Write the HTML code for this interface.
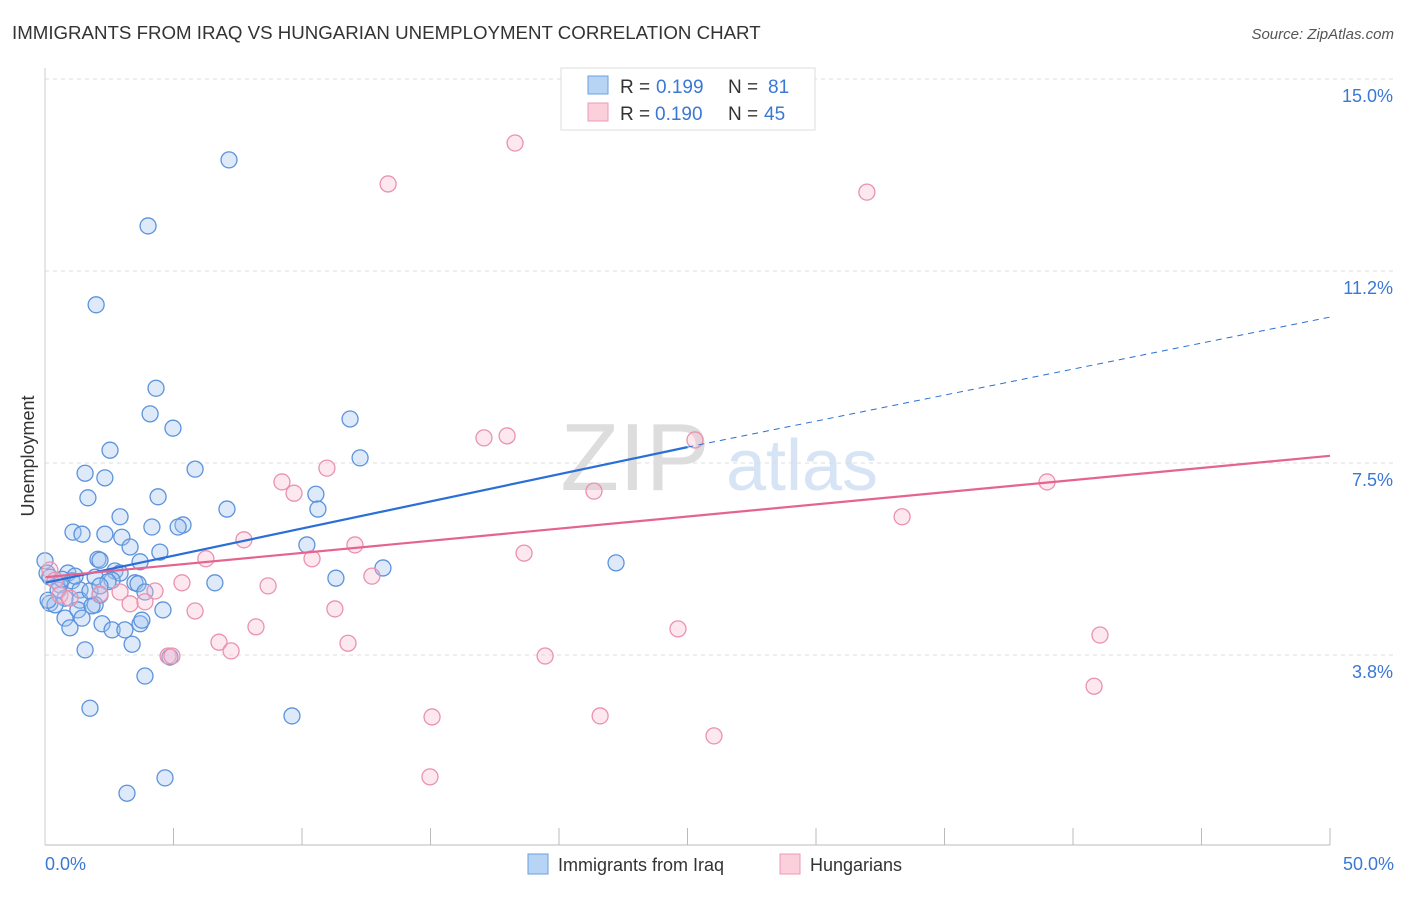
<!DOCTYPE html>
<html><head><meta charset="utf-8"><style>
body{margin:0;background:#fff;font-family:"Liberation Sans",sans-serif;}
svg text{font-family:"Liberation Sans",sans-serif;}
</style></head><body>
<svg id="chart" width="1406" height="892">
<text x="12" y="39" font-size="18.7" fill="#333">IMMIGRANTS FROM IRAQ VS HUNGARIAN UNEMPLOYMENT CORRELATION CHART</text>
<text x="1394" y="39" font-size="15" fill="#555" font-style="italic" text-anchor="end">Source: ZipAtlas.com</text>
<text x="34" y="456" font-size="18" fill="#333" transform="rotate(-90 34 456)" text-anchor="middle">Unemployment</text>
<text x="635" y="490" font-size="96" fill="#ddd" text-anchor="middle" font-family="Liberation Serif">ZIP</text>
<text x="802" y="490" font-size="72" fill="#d6e4f5" text-anchor="middle">atlas</text>
<g id="grid"></g><g id="pts"></g><g id="lines"></g>
<line x1="45" y1="845" x2="1330" y2="845" stroke="#bbb"/>
<line x1="45" y1="68" x2="45" y2="845" stroke="#ccc"/>
<text x="45" y="870" font-size="18" fill="#3a78d4">0.0%</text>
<text x="1394" y="870" font-size="18" fill="#3a78d4" text-anchor="end">50.0%</text>
<g>
<rect x="561" y="68" width="254" height="62" fill="#fff" stroke="#ddd"/>
<rect x="588" y="76" width="20" height="18" fill="#b8d4f5" stroke="#6a9fe0"/>
<rect x="588" y="103" width="20" height="18" fill="#fbd0dc" stroke="#ec9ab3"/>
<text x="620" y="93" font-size="19" fill="#333">R =</text>
<text x="656" y="93" font-size="19" fill="#3a78d4">0.199</text>
<text x="728" y="93" font-size="19" fill="#333">N =</text>
<text x="768" y="93" font-size="19" fill="#3a78d4">81</text>
<text x="620" y="120" font-size="19" fill="#333">R =</text>
<text x="655" y="120" font-size="19" fill="#3a78d4">0.190</text>
<text x="728" y="120" font-size="19" fill="#333">N =</text>
<text x="764" y="120" font-size="19" fill="#3a78d4">45</text>
</g>
<g>
<rect x="528" y="854" width="20" height="20" fill="#b8d4f5" stroke="#6a9fe0"/>
<text x="558" y="871" font-size="18" fill="#333">Immigrants from Iraq</text>
<rect x="780" y="854" width="20" height="20" fill="#fbd0dc" stroke="#ec9ab3"/>
<text x="810" y="871" font-size="18" fill="#333">Hungarians</text>
</g>
</svg>
<script>
const yTicks=[3.75,7.5,11.25,15];
const yTickLabels=["3.8%","7.5%","11.2%","15.0%"];
const xTicks=[0,5,10,15,20,25,30,35,40,45,50];
const iraqX=[7.16,4.01,1.99,4.32,4.09,11.87,4.98,2.53,12.26,5.84,1.56,2.33,1.67,4.40,10.54,7.08,10.62,2.92,4.16,5.37,5.18,1.09,1.44,2.33,2.99,3.31,10.19,4.47,2.06,2.14,3.70,0,0.08,0.89,2.72,2.92,13.15,22.22,0.19,1.05,1.95,2.61,3.50,3.62,11.32,6.61,0.58,1.36,2.14,3.89,0.78,1.36,0.19,0.39,1.95,1.28,4.59,0.78,1.44,1.83,0.97,2.22,2.61,3.11,3.70,3.77,3.39,1.56,4.86,3.89,1.75,9.61,4.67,3.19,0.51,0.12,0.66,1.17,2.45,1.75,2.14];
const iraqY=[13.42,12.13,10.59,8.96,8.46,8.36,8.18,7.75,7.60,7.38,7.30,7.21,6.82,6.84,6.89,6.60,6.60,6.45,6.25,6.29,6.25,6.15,6.11,6.11,6.05,5.86,5.90,5.76,5.62,5.60,5.57,5.59,5.35,5.35,5.39,5.35,5.45,5.55,5.27,5.20,5.27,5.21,5.16,5.14,5.25,5.16,5.12,5.02,4.92,4.98,4.86,4.82,4.76,4.73,4.73,4.63,4.63,4.47,4.47,4.71,4.28,4.36,4.24,4.24,4.36,4.43,3.96,3.85,3.71,3.34,2.71,2.56,1.35,1.05,5.02,4.82,5.23,5.29,5.18,5.00,5.10];
const hunX=[18.29,13.35,31.98,17.08,17.98,25.29,10.97,9.22,9.69,38.99,21.36,33.35,7.74,6.26,12.06,10.39,18.64,12.72,5.33,8.68,4.28,2.92,2.14,3.31,3.89,5.84,11.28,0.19,0.39,0.58,8.21,6.77,7.24,11.79,24.63,41.05,4.79,19.46,4.94,40.82,15.06,21.60,26.03,14.98,0.97];
const hunY=[13.75,12.95,12.79,7.99,8.03,7.95,7.40,7.13,6.91,7.13,6.95,6.45,6.00,5.63,5.90,5.63,5.74,5.29,5.16,5.10,5.00,4.98,4.94,4.75,4.79,4.61,4.65,5.41,5.21,4.92,4.30,4.00,3.83,3.98,4.26,4.14,3.73,3.73,3.73,3.14,2.54,2.56,2.17,1.37,4.86];
const iraqLine={x0:0,y0:5.16,x1:25,y1:7.81,x2:50,y2:10.35};
const hunLine={x0:0,y0:5.27,x1:50,y1:7.64};
const NS="http://www.w3.org/2000/svg";
const sx=v=>45+v/50*1285, sy=v=>847-v*51.2;
function mk(tag,a,parent){const e=document.createElementNS(NS,tag);for(const k in a)e.setAttribute(k,a[k]);parent.appendChild(e);return e;}
const grid=document.getElementById('grid'),pts=document.getElementById('pts'),lines=document.getElementById('lines');
yTicks.forEach((t,i)=>{
 const l=mk('line',{x1:45,x2:1394,y1:sy(t),y2:sy(t),stroke:'#ddd','stroke-dasharray':'4 4'},grid);
 
 
 const tx=mk('text',{x:1393,y:sy(t)+23,'font-size':18,fill:'#3a78d4','text-anchor':'end'},grid);
 tx.textContent=yTickLabels[i];
 
 
});
xTicks.forEach(t=>{
 const l=mk('line',{x1:sx(t),x2:sx(t),y1:828,y2:845,stroke:'#bbb'},grid);
 
 
});
iraqX.forEach((x,i)=>{
 const c=mk('circle',{cx:sx(x),cy:sy(iraqY[i]),r:8,fill:'rgba(160,196,240,0.35)',stroke:'#5b93dc','stroke-width':1.3},pts);
 
 
});
hunX.forEach((x,i)=>{
 const c=mk('circle',{cx:sx(x),cy:sy(hunY[i]),r:8,fill:'rgba(248,190,208,0.35)',stroke:'#ea92ad','stroke-width':1.3},pts);
 
 
});
const b1=mk('line',{x1:sx(iraqLine.x0),y1:sy(iraqLine.y0),x2:sx(iraqLine.x1),y2:sy(iraqLine.y1),stroke:'#2a6fd6','stroke-width':2.2},lines);


const b2=mk('line',{x1:sx(iraqLine.x1),y1:sy(iraqLine.y1),x2:sx(iraqLine.x2),y2:sy(iraqLine.y2),stroke:'#2a6fd6','stroke-width':1,'stroke-dasharray':'6 5'},lines);


const p1=mk('line',{x1:sx(hunLine.x0),y1:sy(hunLine.y0),x2:sx(hunLine.x1),y2:sy(hunLine.y1),stroke:'#e5648e','stroke-width':2.2},lines);


</script>
</body></html>
